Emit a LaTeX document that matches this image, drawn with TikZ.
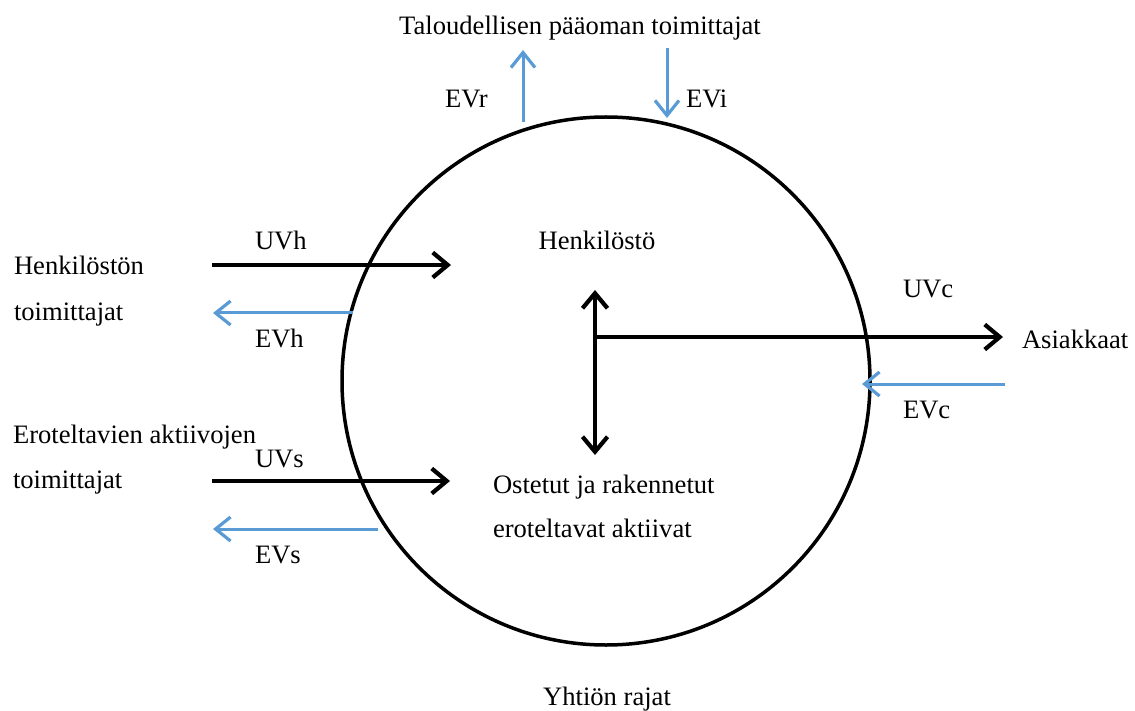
\documentclass[tikz,border=0pt]{standalone}
\usepackage{fontspec}
\setmainfont{Liberation Serif}
\usetikzlibrary{arrows.meta}
\definecolor{flowblue}{RGB}{91,155,213}
\begin{document}
\begin{tikzpicture}[x=1pt,y=-1pt,
  lbl/.style={font=\fontsize{26.6}{30}\selectfont, inner sep=0pt, outer sep=0pt},
  boundary/.style={draw, circle, line width=3.5pt, minimum size=528pt, inner sep=0pt},
  utip/.style={},
  uflow/.style={line width=4.2pt, -{Straight Barb[length=15pt,width=25pt,line width=4.2pt]}},
  uboth/.style={line width=4.2pt, {Straight Barb[length=15pt,width=25pt,line width=4.2pt]}-{Straight Barb[length=15pt,width=25pt,line width=4.2pt]}},
  eflow/.style={line width=3pt, draw=flowblue, -{Straight Barb[length=15pt,width=24pt,line width=3.2pt]}}]
\useasboundingbox (0,0) rectangle (1135,711);

% company boundary
\node[boundary] (firm) at (606,381) {};

% texts
\node[lbl, anchor=base] (capital) at (580,35) {Taloudellisen pääoman toimittajat};
\node[lbl, anchor=base west] (evr) at (445,108) {EVr};
\node[lbl, anchor=base west] (evi) at (686,108) {EVi};
\node[lbl, anchor=base west] (staffsup1) at (14,275) {Henkilöstön};
\node[lbl, anchor=base west] (staffsup2) at (14,320) {toimittajat};
\node[lbl, anchor=base west] (uvh) at (255,250) {UVh};
\node[lbl, anchor=base west] (evh) at (255,347) {EVh};
\node[lbl, anchor=base] (staff) at (597,250) {Henkilöstö};
\node[lbl, anchor=base west] (uvc) at (903,298) {UVc};
\node[lbl, anchor=base west] (customers) at (1022,348) {Asiakkaat};
\node[lbl, anchor=base west] (evc) at (903,418) {EVc};
\node[lbl, anchor=base west] (assetsup1) at (13,443) {Eroteltavien aktiivojen};
\node[lbl, anchor=base west] (assetsup2) at (13,488) {toimittajat};
\node[lbl, anchor=base west] (uvs) at (255,467) {UVs};
\node[lbl, anchor=base west] (evs) at (255,563) {EVs};
\node[lbl, anchor=base west] (assets1) at (493,493) {Ostetut ja rakennetut};
\node[lbl, anchor=base west] (assets2) at (493,537) {eroteltavat aktiivat};
\node[lbl, anchor=base] (limits) at (607,705) {Yhtiön rajat};

% connector end points
\coordinate (evr-s) at (523,122);
\coordinate (evr-e) at (523,50);
\coordinate (evi-s) at (667,48);
\coordinate (evi-e) at (667,118);
\coordinate (uvh-s) at (212,265);
\coordinate (uvh-e) at (451,265);
\coordinate (evh-s) at (353,313);
\coordinate (evh-e) at (213,313);
\coordinate (core-t) at (595,290);
\coordinate (core-b) at (595,455);
\coordinate (core-m) at (595,337);
\coordinate (uvc-e) at (1003,337);
\coordinate (evc-s) at (1005,384);
\coordinate (evc-e) at (862,384);
\coordinate (uvs-s) at (212,481);
\coordinate (uvs-e) at (450,481);
\coordinate (evs-s) at (378,529);
\coordinate (evs-e) at (213,529);

% flows
\draw[eflow] (evr-s) -- (evr-e);
\draw[eflow] (evi-s) -- (evi-e);
\draw[uflow] (uvh-s) -- (uvh-e);
\draw[eflow] (evh-s) -- (evh-e);
\draw[uboth] (core-t) -- (core-b);
\draw[uflow] (core-m) -- (uvc-e);
\draw[eflow] (evc-s) -- (evc-e);
\draw[uflow] (uvs-s) -- (uvs-e);
\draw[eflow] (evs-s) -- (evs-e);
\end{tikzpicture}
\end{document}
